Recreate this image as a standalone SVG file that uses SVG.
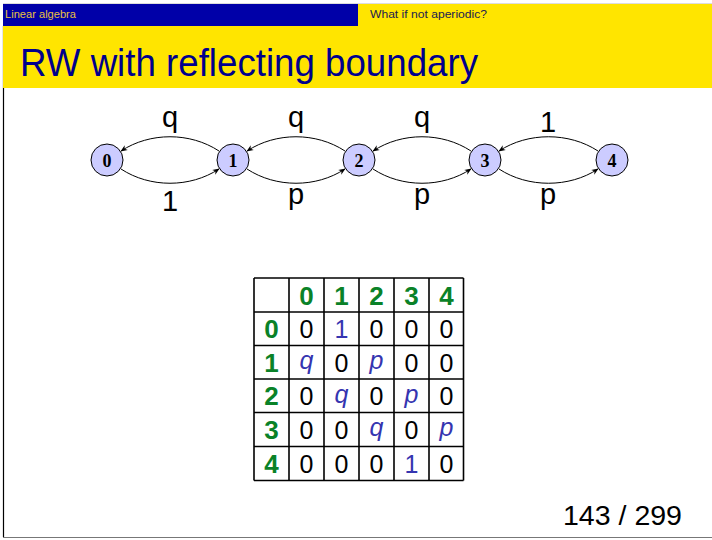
<svg xmlns="http://www.w3.org/2000/svg" width="712" height="540" viewBox="0 0 712 540">
  <style>
    .sans { font-family: "Liberation Sans", "DejaVu Sans", sans-serif; }
    .node circle { fill: #ccccff; stroke: #000; stroke-width: 1; }
    .node text { font-family: "Liberation Serif", "DejaVu Serif", serif; font-weight: bold; font-size: 18px; text-anchor: middle; }
    .edge { fill: none; stroke: #000; stroke-width: 1; marker-end: url(#arr); }
    .elabel { font-family: "Liberation Sans", "DejaVu Sans", sans-serif; font-size: 29px; text-anchor: middle; fill: #000; }
    .grid line { stroke: #000; stroke-width: 1.6; }
    .hd { font-family: "Liberation Sans", "DejaVu Sans", sans-serif; font-weight: bold; font-size: 26px; fill: #0a8228; text-anchor: middle; }
    .v { font-family: "Liberation Sans", "DejaVu Sans", sans-serif; font-size: 25px; fill: #000; text-anchor: middle; }
    .b { fill: #3535b0; }
    .i { font-style: italic; }
  </style>
  <defs>
    <marker id="arr" viewBox="0 0 10 10" refX="9" refY="5" markerWidth="7" markerHeight="7" orient="auto" markerUnits="userSpaceOnUse">
      <path d="M0,1 L10,5 L0,9 L3,5 Z" fill="#000"/>
    </marker>
  </defs>

  <!-- page frame -->
  <rect x="0" y="0" width="712" height="540" fill="#fff"/>
  <line x1="3" y1="3.5" x2="712" y2="3.5" stroke="#ddd" stroke-width="1"/>
  <line x1="3.5" y1="26" x2="3.5" y2="537" stroke="#000" stroke-width="1.2"/>
  <line x1="3" y1="537.5" x2="712" y2="537.5" stroke="#777" stroke-width="1.2"/>

  <!-- header strip -->
  <rect x="3" y="4" width="355" height="22" fill="#0000a8"/>
  <rect x="358" y="4" width="354" height="22" fill="#ffe500"/>
  <text x="5" y="18" class="sans" font-size="10.5" fill="#e8c040" textLength="71" lengthAdjust="spacingAndGlyphs">Linear algebra</text>
  <text x="370" y="18" class="sans" font-size="10.5" fill="#202050" textLength="117" lengthAdjust="spacingAndGlyphs">What if not aperiodic?</text>

  <!-- title band -->
  <rect x="3" y="26" width="709" height="62" fill="#ffe500"/>
  <text x="20" y="76" class="sans" font-size="39" fill="#00008c" textLength="458" lengthAdjust="spacingAndGlyphs">RW with reflecting boundary</text>

  <!-- connectors -->
  <g id="edges">
    <path class="edge" d="M219,151 C190,132 150,132 121,151"/>
    <path class="edge" d="M345,151 C316,132 276,132 247,151"/>
    <path class="edge" d="M471,151 C442,132 402,132 373,151"/>
    <path class="edge" d="M598,151 C569,132 528,132 499,151"/>
    <path class="edge" d="M121,169 C150,188 190,188 219,169"/>
    <path class="edge" d="M247,169 C276,188 316,188 345,169"/>
    <path class="edge" d="M373,169 C402,188 442,188 471,169"/>
    <path class="edge" d="M499,169 C528,188 569,188 598,169"/>
    <text class="elabel" x="170" y="127">q</text>
    <text class="elabel" x="296" y="127">q</text>
    <text class="elabel" x="422" y="127">q</text>
    <text class="elabel" x="548" y="132">1</text>
    <text class="elabel" x="170" y="211">1</text>
    <text class="elabel" x="296" y="204">p</text>
    <text class="elabel" x="422" y="204">p</text>
    <text class="elabel" x="548" y="204">p</text>
  </g>

  <!-- states -->
  <g id="n0" class="node"><circle cx="107" cy="160" r="16"/><text x="107" y="166.5">0</text></g>
  <g id="n1" class="node"><circle cx="233" cy="160" r="16"/><text x="233" y="166.5">1</text></g>
  <g id="n2" class="node"><circle cx="359" cy="160" r="16"/><text x="359" y="166.5">2</text></g>
  <g id="n3" class="node"><circle cx="485" cy="160" r="16"/><text x="485" y="166.5">3</text></g>
  <g id="n4" class="node"><circle cx="612" cy="160" r="16"/><text x="612" y="166.5">4</text></g>

  <!-- transition matrix -->
  <g id="matrix">
    <g class="grid">
      <line x1="254" y1="278" x2="463.5" y2="278"/>
      <line x1="254" y1="312" x2="463.5" y2="312"/>
      <line x1="254" y1="345.5" x2="463.5" y2="345.5"/>
      <line x1="254" y1="379" x2="463.5" y2="379"/>
      <line x1="254" y1="412.5" x2="463.5" y2="412.5"/>
      <line x1="254" y1="446.5" x2="463.5" y2="446.5"/>
      <line x1="254" y1="480.5" x2="463.5" y2="480.5"/>
      <line x1="254" y1="278" x2="254" y2="480.5"/>
      <line x1="289" y1="278" x2="289" y2="480.5"/>
      <line x1="324" y1="278" x2="324" y2="480.5"/>
      <line x1="359" y1="278" x2="359" y2="480.5"/>
      <line x1="394" y1="278" x2="394" y2="480.5"/>
      <line x1="429" y1="278" x2="429" y2="480.5"/>
      <line x1="463.5" y1="278" x2="463.5" y2="480.5"/>
    </g>
    <!-- column headers -->
    <text class="hd" x="306.5" y="304.5">0</text>
    <text class="hd" x="341.5" y="304.5">1</text>
    <text class="hd" x="376.5" y="304.5">2</text>
    <text class="hd" x="411.5" y="304.5">3</text>
    <text class="hd" x="446.5" y="304.5">4</text>
    <!-- row headers -->
    <text class="hd" x="271.5" y="338">0</text>
    <text class="hd" x="271.5" y="371.5">1</text>
    <text class="hd" x="271.5" y="405">2</text>
    <text class="hd" x="271.5" y="438.5">3</text>
    <text class="hd" x="271.5" y="472.5">4</text>
    <!-- row 0 -->
    <text class="v" x="306.5" y="338">0</text>
    <text class="v b" x="341.5" y="338">1</text>
    <text class="v" x="376.5" y="338">0</text>
    <text class="v" x="411.5" y="338">0</text>
    <text class="v" x="446.5" y="338">0</text>
    <!-- row 1 -->
    <text class="v b i" x="306.5" y="369">q</text>
    <text class="v" x="341.5" y="371.5">0</text>
    <text class="v b i" x="376.5" y="369">p</text>
    <text class="v" x="411.5" y="371.5">0</text>
    <text class="v" x="446.5" y="371.5">0</text>
    <!-- row 2 -->
    <text class="v" x="306.5" y="405">0</text>
    <text class="v b i" x="341.5" y="402.5">q</text>
    <text class="v" x="376.5" y="405">0</text>
    <text class="v b i" x="411.5" y="402.5">p</text>
    <text class="v" x="446.5" y="405">0</text>
    <!-- row 3 -->
    <text class="v" x="306.5" y="438.5">0</text>
    <text class="v" x="341.5" y="438.5">0</text>
    <text class="v b i" x="376.5" y="436">q</text>
    <text class="v" x="411.5" y="438.5">0</text>
    <text class="v b i" x="446.5" y="436">p</text>
    <!-- row 4 -->
    <text class="v" x="306.5" y="472.5">0</text>
    <text class="v" x="341.5" y="472.5">0</text>
    <text class="v" x="376.5" y="472.5">0</text>
    <text class="v b" x="411.5" y="472.5">1</text>
    <text class="v" x="446.5" y="472.5">0</text>
  </g>

  <!-- page number -->
  <text x="563" y="525" class="sans" font-size="28" fill="#000" textLength="119" lengthAdjust="spacingAndGlyphs">143 / 299</text>
</svg>
